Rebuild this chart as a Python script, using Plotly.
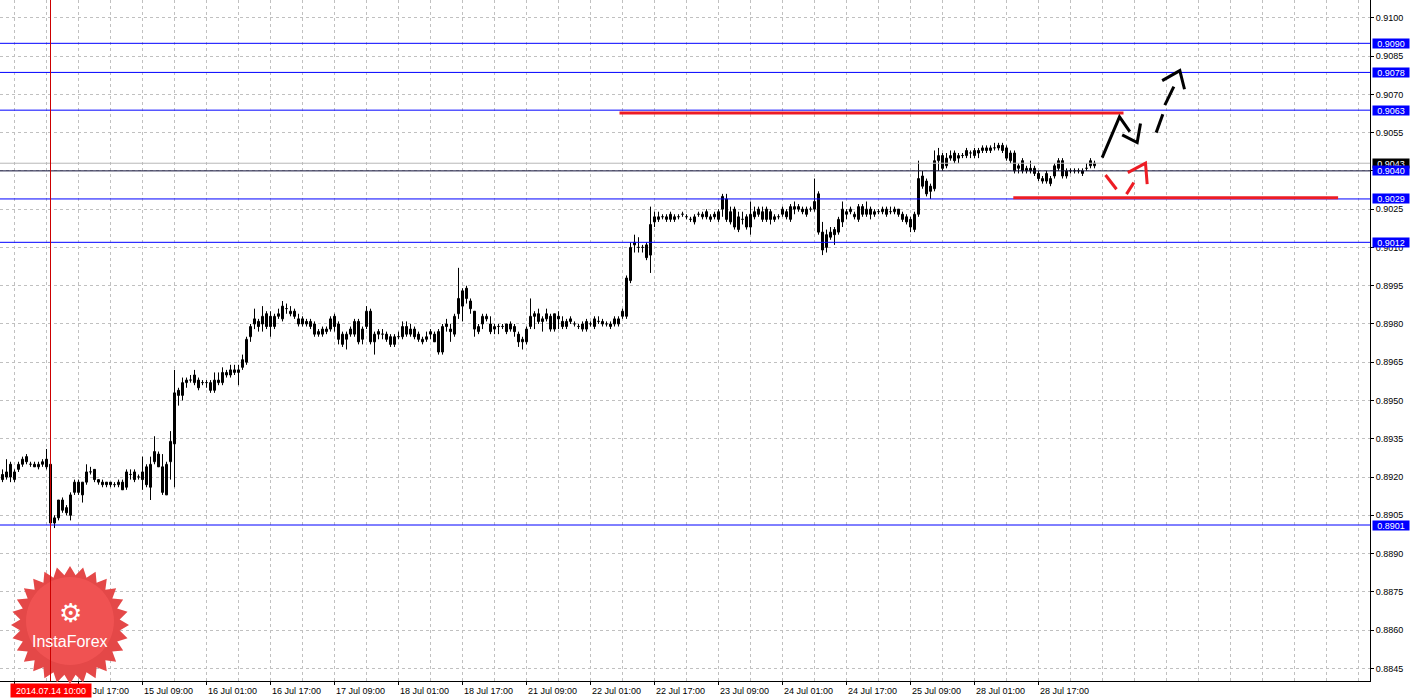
import math
import pandas as pd
import plotly.graph_objects as go

# ---------------- data ----------------
times = [t for t in pd.date_range("2014-07-11 22:00", "2014-07-29 07:00", freq="h") if t.dayofweek < 5]

open_ = [
    .8921, .8920, .8925, .8919, .8923, .8925, .8928, .8925, .8925, .8924,
    .8925, .8927, .8925, .8902, .8904, .8911, .8908, .8905, .8914, .8918,
    .8913, .8918, .8922, .8923, .8918, .8918, .8918, .8918, .8917, .8917,
    .8918, .8916, .8921, .8922, .8920, .8922, .8924, .8916, .8926, .8929,
    .8924, .8913, .8926, .8933, .8954, .8952, .8957, .8958, .8957, .8958,
    .8957, .8957, .8957, .8954, .8957, .8957, .8960, .8960, .8961, .8961,
    .8963, .8965, .8975, .8980, .8981, .8980, .8984, .8983, .8979, .8983,
    .8982, .8986, .8984, .8985, .8982, .8982, .8981, .8979, .8980, .8977,
    .8976, .8977, .8978, .8983, .8980, .8972, .8974, .8976, .8976, .8981,
    .8974, .8979, .8985, .8973, .8977, .8976, .8976, .8975, .8972, .8975,
    .8975, .8979, .8976, .8978, .8976, .8973, .8974, .8976, .8976, .8977,
    .8969, .8980, .8978, .8976, .8984, .8987, .8994, .8989, .8985, .8977,
    .8980, .8982, .8980, .8978, .8979, .8979, .8980, .8978, .8979, .8976,
    .8973, .8973, .8979, .8984, .8984, .8982, .8982, .8983, .8978, .8983,
    .8981, .8979, .8982, .8980, .8979, .8980, .8978, .8980, .8979, .8981,
    .8980, .8980, .8979, .8980, .8980, .8983, .8983, .8997, .9011, .9010,
    .9010, .9011, .9007, .9020, .9021, .9022, .9021, .9021, .9022, .9022,
    .9023, .9022, .9021, .9020, .9023, .9022, .9024, .9021, .9023, .9021,
    .9025, .9029, .9020, .9025, .9017, .9021, .9022, .9018, .9022, .9025,
    .9021, .9025, .9024, .9022, .9022, .9023, .9024, .9021, .9025, .9026,
    .9025, .9025, .9025, .9025, .9031, .9016, .9010, .9014, .9017, .9016,
    .9020, .9023, .9024, .9022, .9021, .9026, .9023, .9025, .9023, .9024,
    .9024, .9025, .9024, .9024, .9025, .9023, .9022, .9021, .9017, .9023,
    .9038, .9036, .9034, .9033, .9044, .9046, .9042, .9045, .9047, .9045,
    .9046, .9046, .9047, .9046, .9048, .9048, .9049, .9048, .9049, .9050,
    .9050, .9049, .9044, .9047, .9041, .9044, .9040, .9041, .9041, .9039,
    .9036, .9036, .9035, .9038, .9041, .9044, .9040, .9040, .9040, .9040,
    .9039, .9041, .9042, .9042,
]
high_ = [
    .8923, .8927, .8926, .8923, .8926, .8928, .8929, .8926, .8926, .8926,
    .8927, .8931, .8925, .8905, .8911, .8912, .8909, .8914, .8919, .8919,
    .8918, .8925, .8924, .8923, .8919, .8919, .8918, .8918, .8918, .8919,
    .8919, .8923, .8923, .8923, .8921, .8928, .8925, .8928, .8936, .8930,
    .8929, .8926, .8938, .8962, .8955, .8959, .8959, .8960, .8962, .8959,
    .8958, .8958, .8958, .8961, .8961, .8963, .8962, .8964, .8964, .8964,
    .8968, .8975, .8980, .8986, .8982, .8987, .8985, .8985, .8984, .8986,
    .8989, .8988, .8987, .8986, .8984, .8983, .8982, .8982, .8981, .8978,
    .8979, .8979, .8983, .8984, .8981, .8977, .8977, .8979, .8982, .8982,
    .8979, .8987, .8986, .8977, .8978, .8978, .8977, .8976, .8976, .8977,
    .8981, .8981, .8980, .8979, .8977, .8975, .8977, .8978, .8977, .8978,
    .8980, .8982, .8980, .8984, .9002, .8994, .8995, .8990, .8985, .8980,
    .8984, .8984, .8983, .8980, .8980, .8980, .8980, .8981, .8980, .8977,
    .8975, .8979, .8990, .8985, .8986, .8983, .8986, .8984, .8984, .8985,
    .8983, .8982, .8983, .8981, .8980, .8981, .8982, .8981, .8983, .8983,
    .8982, .8981, .8981, .8983, .8983, .8986, .8999, .9012, .9015, .9014,
    .9011, .9012, .9026, .9024, .9024, .9023, .9023, .9024, .9023, .9023,
    .9024, .9023, .9022, .9023, .9024, .9024, .9025, .9023, .9024, .9025,
    .9031, .9031, .9026, .9026, .9024, .9024, .9023, .9028, .9026, .9026,
    .9026, .9026, .9025, .9023, .9023, .9026, .9025, .9027, .9028, .9027,
    .9026, .9026, .9026, .9037, .9032, .9020, .9017, .9018, .9018, .9022,
    .9028, .9025, .9026, .9024, .9027, .9027, .9028, .9026, .9025, .9025,
    .9026, .9026, .9026, .9026, .9025, .9024, .9023, .9022, .9024, .9044,
    .9040, .9037, .9035, .9048, .9049, .9047, .9047, .9048, .9048, .9047,
    .9047, .9049, .9048, .9049, .9049, .9050, .9050, .9050, .9051, .9051,
    .9051, .9050, .9048, .9048, .9043, .9045, .9042, .9044, .9042, .9040,
    .9038, .9040, .9038, .9043, .9045, .9045, .9041, .9041, .9041, .9041,
    .9041, .9043, .9045, .9044,
]
low_ = [
    .8918, .8919, .8918, .8918, .8922, .8924, .8925, .8924, .8924, .8923,
    .8924, .8923, .8901, .8900, .8903, .8906, .8905, .8903, .8913, .8913,
    .8910, .8917, .8921, .8918, .8917, .8916, .8916, .8916, .8916, .8916,
    .8915, .8915, .8919, .8918, .8919, .8915, .8916, .8911, .8925, .8924,
    .8913, .8913, .8919, .8916, .8948, .8950, .8955, .8957, .8956, .8954,
    .8956, .8955, .8953, .8953, .8956, .8956, .8959, .8959, .8960, .8956,
    .8962, .8964, .8973, .8978, .8977, .8977, .8978, .8975, .8978, .8982,
    .8981, .8984, .8983, .8982, .8979, .8979, .8979, .8978, .8975, .8975,
    .8975, .8976, .8977, .8977, .8972, .8971, .8970, .8975, .8975, .8972,
    .8972, .8978, .8972, .8968, .8974, .8974, .8973, .8971, .8971, .8974,
    .8974, .8975, .8975, .8974, .8973, .8972, .8973, .8974, .8973, .8968,
    .8968, .8977, .8973, .8975, .8982, .8981, .8988, .8984, .8975, .8976,
    .8978, .8981, .8976, .8976, .8976, .8978, .8976, .8977, .8975, .8971,
    .8970, .8972, .8978, .8978, .8980, .8977, .8981, .8977, .8977, .8978,
    .8978, .8978, .8980, .8979, .8978, .8977, .8977, .8979, .8978, .8980,
    .8979, .8979, .8978, .8979, .8979, .8982, .8982, .8996, .9008, .9008,
    .9008, .9005, .9000, .9018, .9020, .9021, .9020, .9020, .9020, .9021,
    .9022, .9021, .9020, .9019, .9022, .9021, .9021, .9020, .9021, .9020,
    .9022, .9020, .9019, .9017, .9016, .9019, .9017, .9015, .9021, .9022,
    .9020, .9020, .9019, .9020, .9021, .9022, .9021, .9020, .9023, .9024,
    .9023, .9022, .9024, .9024, .9015, .9007, .9008, .9013, .9011, .9015,
    .9018, .9021, .9023, .9021, .9020, .9022, .9022, .9021, .9022, .9023,
    .9023, .9022, .9023, .9023, .9022, .9020, .9019, .9016, .9016, .9022,
    .9033, .9030, .9029, .9032, .9040, .9040, .9041, .9044, .9043, .9043,
    .9045, .9045, .9045, .9045, .9045, .9047, .9047, .9047, .9048, .9048,
    .9047, .9044, .9043, .9039, .9039, .9039, .9039, .9039, .9038, .9036,
    .9035, .9035, .9034, .9037, .9040, .9037, .9037, .9039, .9039, .9039,
    .9038, .9040, .9041, .9041,
]
close_ = [
    .8919, .8922, .8920, .8922, .8925, .8927, .8926, .8925, .8924, .8925,
    .8926, .8924, .8902, .8904, .8911, .8907, .8906, .8913, .8918, .8914,
    .8918, .8922, .8922, .8919, .8919, .8917, .8917, .8917, .8917, .8918,
    .8915, .8922, .8921, .8919, .8920, .8919, .8917, .8925, .8930, .8924,
    .8914, .8925, .8934, .8953, .8952, .8957, .8958, .8958, .8960, .8955,
    .8957, .8957, .8954, .8958, .8958, .8961, .8961, .8962, .8962, .8962,
    .8966, .8974, .8979, .8982, .8979, .8983, .8979, .8979, .8983, .8984,
    .8987, .8986, .8985, .8983, .8980, .8980, .8980, .8981, .8976, .8976,
    .8978, .8978, .8982, .8979, .8974, .8976, .8976, .8978, .8981, .8973,
    .8978, .8985, .8973, .8976, .8976, .8976, .8974, .8972, .8975, .8975,
    .8979, .8976, .8978, .8975, .8974, .8974, .8975, .8977, .8973, .8969,
    .8979, .8979, .8977, .8983, .8990, .8993, .8990, .8986, .8978, .8979,
    .8983, .8983, .8977, .8979, .8979, .8979, .8977, .8980, .8977, .8973,
    .8974, .8978, .8983, .8983, .8981, .8981, .8984, .8978, .8984, .8982,
    .8979, .8981, .8981, .8980, .8979, .8978, .8981, .8980, .8982, .8981,
    .8981, .8980, .8980, .8982, .8982, .8985, .8998, .9010, .9012, .9010,
    .9010, .9006, .9019, .9022, .9022, .9022, .9022, .9023, .9021, .9022,
    .9023, .9022, .9021, .9022, .9023, .9023, .9022, .9022, .9022, .9024,
    .9030, .9021, .9024, .9018, .9022, .9021, .9018, .9023, .9024, .9023,
    .9024, .9021, .9021, .9021, .9022, .9025, .9022, .9026, .9026, .9025,
    .9024, .9023, .9025, .9028, .9016, .9009, .9015, .9016, .9015, .9021,
    .9025, .9024, .9025, .9023, .9026, .9023, .9025, .9023, .9024, .9024,
    .9025, .9023, .9024, .9025, .9023, .9021, .9020, .9018, .9023, .9037,
    .9034, .9031, .9032, .9044, .9046, .9041, .9045, .9046, .9044, .9046,
    .9046, .9048, .9047, .9048, .9047, .9049, .9048, .9049, .9049, .9049,
    .9048, .9045, .9047, .9040, .9042, .9040, .9041, .9040, .9039, .9037,
    .9037, .9039, .9037, .9042, .9044, .9038, .9038, .9040, .9040, .9040,
    .9040, .9041, .9044, .9043,
]

tick_labels = ["14 Jul 01:00", "14 Jul 17:00", "15 Jul 09:00", "16 Jul 01:00", "16 Jul 17:00",
               "17 Jul 09:00", "18 Jul 01:00", "18 Jul 17:00", "21 Jul 09:00", "22 Jul 01:00",
               "22 Jul 17:00", "23 Jul 09:00", "24 Jul 01:00", "24 Jul 17:00", "25 Jul 09:00",
               "28 Jul 01:00", "28 Jul 17:00"]
price_ticks = [0.8845, 0.8860, 0.8875, 0.8890, 0.8905, 0.8920, 0.8935, 0.8950, 0.8965,
               0.8980, 0.8995, 0.9010, 0.9025, 0.9040, 0.9055, 0.9070, 0.9085, 0.9100]

level_values = [0.9090, 0.90786, 0.90638, 0.9029, 0.9012, 0.89012]
level_labels = ["0.9090", "0.9078", "0.9063", "0.9029", "0.9012", "0.8901"]
bid_price = 0.9043
cross_price = 0.9040
cross_time = "2014.07.14 10:00"

n = len(times)
assert n == len(open_) == len(high_) == len(low_) == len(close_)

# ---------------- figure ----------------
FONT = "Liberation Sans, Arial, sans-serif"
fig = go.Figure()

# wicks
wx, wy = [], []
for i in range(n):
    wx += [i, i, None]
    wy += [low_[i], high_[i], None]
fig.add_trace(go.Scatter(x=wx, y=wy, mode="lines", line=dict(color="black", width=1),
                         hoverinfo="skip"))

MINH = 0.000005
bull = [i for i in range(n) if close_[i] >= open_[i]]
bear = [i for i in range(n) if close_[i] < open_[i]]
fig.add_trace(go.Bar(x=bull, base=[open_[i] for i in bull],
                     y=[max(close_[i] - open_[i], MINH) for i in bull], width=0.5,
                     marker=dict(color="white", line=dict(color="black", width=1)),
                     hoverinfo="skip"))
fig.add_trace(go.Bar(x=bear, base=[close_[i] for i in bear],
                     y=[max(open_[i] - close_[i], MINH) for i in bear], width=0.5,
                     marker=dict(color="black", line=dict(color="black", width=1)),
                     hoverinfo="skip"))

fmt = [t.strftime("%d Jul %H:%M") for t in times]
label_pos = [fmt.index(lbl) for lbl in tick_labels]
grid_pos = list(range(label_pos[0], 342, 8))
minor_pos = [g for g in grid_pos if g not in label_pos]
cross_idx = [t.strftime("%Y.%m.%d %H:%M") for t in times].index(cross_time)

GRID = "#c0c0c0"
fig.update_layout(
    width=1420, height=699, margin=dict(l=0, r=50, t=0, b=18),
    paper_bgcolor="white", plot_bgcolor="white", showlegend=False,
    barmode="overlay", bargap=0, hovermode=False,
    xaxis=dict(range=[-0.625, 341.875], tickvals=label_pos, showticklabels=False,
               ticks="outside", ticklen=3, tickcolor="black",
               showgrid=True, gridcolor=GRID, griddash="3px,3px", gridwidth=1,
               minor=dict(tickvals=minor_pos, showgrid=True, gridcolor=GRID,
                          griddash="3px,3px", ticks=""),
               showline=True, linecolor="black", linewidth=1, zeroline=False),
    yaxis=dict(range=[0.884006, 0.910698], side="right", tickvals=price_ticks,
               ticktext=[f"{v:.4f}" for v in price_ticks],
               ticks="outside", ticklen=3, tickcolor="black",
               tickfont=dict(family=FONT, size=9, color="black"),
               showgrid=True, gridcolor=GRID, griddash="3px,3px", gridwidth=1,
               showline=True, linecolor="black", linewidth=1, zeroline=False),
)

shapes = []
# grey bid line
shapes.append(dict(type="line", xref="paper", x0=0, x1=1, yref="y", y0=bid_price, y1=bid_price,
                   line=dict(color="#b8b8b8", width=1), layer="above"))
# blue level lines
for v in level_values:
    shapes.append(dict(type="line", xref="paper", x0=0, x1=1, yref="y", y0=v, y1=v,
                       line=dict(color="#0000ff", width=1), layer="above"))
# horizontal crosshair
shapes.append(dict(type="line", xref="paper", x0=0, x1=1, yref="y", y0=cross_price, y1=cross_price,
                   line=dict(color="#10103a", width=1), layer="above"))
# red drawn levels
RED = "#ed1c24"
shapes.append(dict(type="line", xref="x", x0=154.25, x1=280.25, yref="y", y0=0.90627, y1=0.90627,
                   line=dict(color=RED, width=3), layer="above"))
shapes.append(dict(type="line", xref="x", x0=252.7, x1=333.9, yref="y", y0=0.90295, y1=0.90295,
                   line=dict(color=RED, width=3), layer="above"))


def seg(points, color):
    d = "M " + " L ".join(f"{x},{y}" for x, y in points)
    return dict(type="path", xref="x", yref="y", path=d,
                line=dict(color=color, width=3), layer="above")


# black forecast arrows
shapes.append(seg([(274.92, 0.90452), (279.25, 0.90612), (281.83, 0.90554)], "black"))
shapes.append(seg([(279.92, 0.90541), (283.67, 0.90511), (284.5, 0.90586)], "black"))
shapes.append(seg([(288.42, 0.90550), (290.08, 0.90622)], "black"))
shapes.append(seg([(290.58, 0.90658), (292.83, 0.90730)], "black"))
shapes.append(seg([(289.92, 0.90754), (294.33, 0.90793), (295.5, 0.90720)], "black"))
# red alternative arrow
shapes.append(seg([(275.75, 0.90384), (278.5, 0.90328)], RED))
shapes.append(seg([(281.0, 0.90309), (282.83, 0.90354)], RED))
shapes.append(seg([(281.33, 0.90393), (285.75, 0.90430), (286.17, 0.90348)], RED))

# logo starburst
cx, cy = 70 / 1370, (681 - 625) / 681
pts = []
spikes = 28
for k in range(spikes * 2):
    r = 59 if k % 2 == 0 else 50
    a = math.pi * k / spikes
    pts.append((r * math.cos(a), r * math.sin(a)))
star = "M " + " L ".join(f"{x:.2f},{y:.2f}" for x, y in pts) + " Z"
shapes.append(dict(type="path", xref="paper", yref="paper", xsizemode="pixel", ysizemode="pixel",
                   xanchor=cx, yanchor=cy, path=star, fillcolor="#e44848",
                   line=dict(width=0), layer="above"))
circ = []
for k in range(60):
    a = 2 * math.pi * k / 60
    circ.append((44 * math.cos(a), 44 * math.sin(a) + 4))
shapes.append(dict(type="path", xref="paper", yref="paper", xsizemode="pixel", ysizemode="pixel",
                   xanchor=cx, yanchor=cy, path="M " + " L ".join(f"{x:.2f},{y:.2f}" for x, y in circ) + " Z",
                   fillcolor="rgba(255,95,95,0.45)", line=dict(width=0), layer="above"))
# vertical crosshair
shapes.append(dict(type="line", xref="x", x0=cross_idx, x1=cross_idx, yref="paper", y0=0, y1=1,
                   line=dict(color="#cc0000", width=1), layer="above"))
fig.update_layout(shapes=shapes)

ann = []
for lbl, p in zip(tick_labels, label_pos):
    ann.append(dict(x=p, xref="x", y=0, yref="paper", text=lbl, showarrow=False,
                    xanchor="left", yanchor="top", yshift=-3, xshift=-1,
                    font=dict(family=FONT, size=9, color="black")))
for v, lbl in zip(level_values, level_labels):
    ann.append(dict(x=1, xref="paper", y=v, yref="y", text=lbl, showarrow=False,
                    xanchor="left", yanchor="middle", xshift=2, width=36, height=9,
                    bgcolor="#0000ff", borderpad=0,
                    font=dict(family=FONT, size=9, color="white")))
ann.append(dict(x=1, xref="paper", y=bid_price, yref="y", text=f"{bid_price:.4f}", showarrow=False,
                xanchor="left", yanchor="middle", xshift=2, width=36, height=9,
                bgcolor="black", borderpad=0, font=dict(family=FONT, size=9, color="white")))
ann.append(dict(x=1, xref="paper", y=cross_price, yref="y", text=f"{cross_price:.4f}", showarrow=False,
                xanchor="left", yanchor="middle", xshift=2, width=36, height=9,
                bgcolor="#0000ff", borderpad=0, font=dict(family=FONT, size=9, color="white")))
ann.append(dict(x=cross_idx, xref="x", y=0, yref="paper", text=cross_time, showarrow=False,
                xanchor="center", yanchor="top", yshift=-2, width=80, height=13,
                bgcolor="#ff0000", borderpad=0, font=dict(family=FONT, size=9, color="white")))
ann.append(dict(x=cx, xref="paper", y=(681 - 613) / 681, yref="paper", text="⚙", showarrow=False,
                xanchor="center", yanchor="middle",
                font=dict(family="DejaVu Sans", size=26, color="white")))
ann.append(dict(x=cx, xref="paper", y=(681 - 641) / 681, yref="paper", text="InstaForex",
                showarrow=False, xanchor="center", yanchor="middle",
                font=dict(family=FONT, size=16, color="white")))
fig.update_layout(annotations=ann)

fig.write_html("out.html", config={"displayModeBar": False, "staticPlot": True},
               post_script="document.body.style.margin='0';document.body.style.overflow='hidden';")
